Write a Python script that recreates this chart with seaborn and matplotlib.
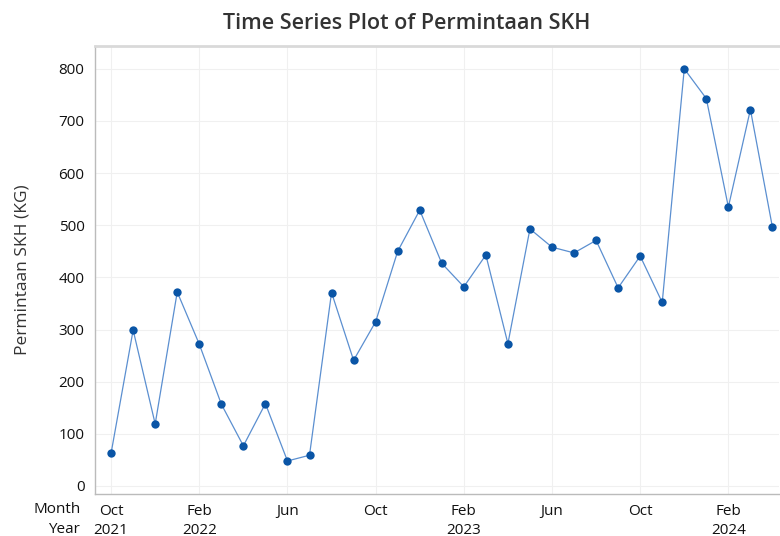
import numpy as np
import pandas as pd
import matplotlib
matplotlib.use('Agg')
import matplotlib.pyplot as plt
import seaborn as sns

# monthly demand, Oct 2021 - Apr 2024
months = pd.date_range('2021-10-01', '2024-04-01', freq='MS')
permintaan = [63, 299, 119, 372, 272, 157, 77, 158, 48, 59, 371, 241,
              315, 450, 529, 427, 382, 443, 273, 493, 458, 447, 471, 380,
              441, 352, 800, 743, 535, 722, 496]
tick_idx = [0, 4, 8, 12, 16, 20, 24, 28]
tick_labels = ['Oct\n2021', 'Feb\n2022', 'Jun', 'Oct', 'Feb\n2023', 'Jun', 'Oct', 'Feb\n2024']

df = pd.DataFrame({'idx': np.arange(len(months)), 'Permintaan': permintaan})

sns.set_style('white')
plt.rcParams['font.family'] = ['Open Sans', 'DejaVu Sans']

fig = plt.figure(figsize=(7.8, 5.36), dpi=100)
ax = fig.add_axes([0.1218, 0.0784, 0.877, 0.836])

sns.lineplot(data=df, x='idx', y='Permintaan', color='#5b8fd0', linewidth=0.9, ax=ax)
sns.scatterplot(data=df, x='idx', y='Permintaan', color='#0a55a6', s=36,
                edgecolor='#0a55a6', linewidth=0, zorder=3, ax=ax)

ax.set_xlim(-0.73, 30.3)
ax.set_ylim(-15.3, 844)
ax.set_yticks(range(0, 801, 100))
ax.set_xticks(tick_idx)
ax.set_xticklabels(tick_labels, fontsize=11, color='#111111', linespacing=1.35,
                   fontweight='medium')
for lab in ax.get_yticklabels():
    lab.set_fontweight('medium')
ax.tick_params(axis='y', labelsize=11, labelcolor='#111111')
ax.tick_params(axis='both', length=4, width=0.8, color='#bbbbbb', direction='out')
ax.xaxis.set_tick_params(pad=3)

ax.grid(True, color='#f0f0f0', linewidth=0.8)
ax.set_axisbelow(True)
for s in ['left', 'bottom']:
    ax.spines[s].set_color('#bbbbbb')
    ax.spines[s].set_linewidth(1.0)
ax.spines['top'].set_color('#d9d9d9')
ax.spines['top'].set_linewidth(2.0)
ax.spines['right'].set_visible(False)

ax.set_xlabel('')
ax.set_ylabel('Permintaan SKH (KG)', fontsize=12.5, color='#333333', labelpad=20,
              fontweight='medium')
fig.suptitle('Time Series Plot of Permintaan SKH', fontsize=15.5, color='#333333',
             x=0.521, y=0.975, fontweight='semibold')

fig.text(0.103, 0.05, 'Month', ha='right', va='center', fontsize=11, color='#111111',
         fontweight='medium')
fig.text(0.103, 0.013, 'Year', ha='right', va='center', fontsize=11, color='#111111',
         fontweight='medium')

fig.savefig('out.png', dpi=100)
